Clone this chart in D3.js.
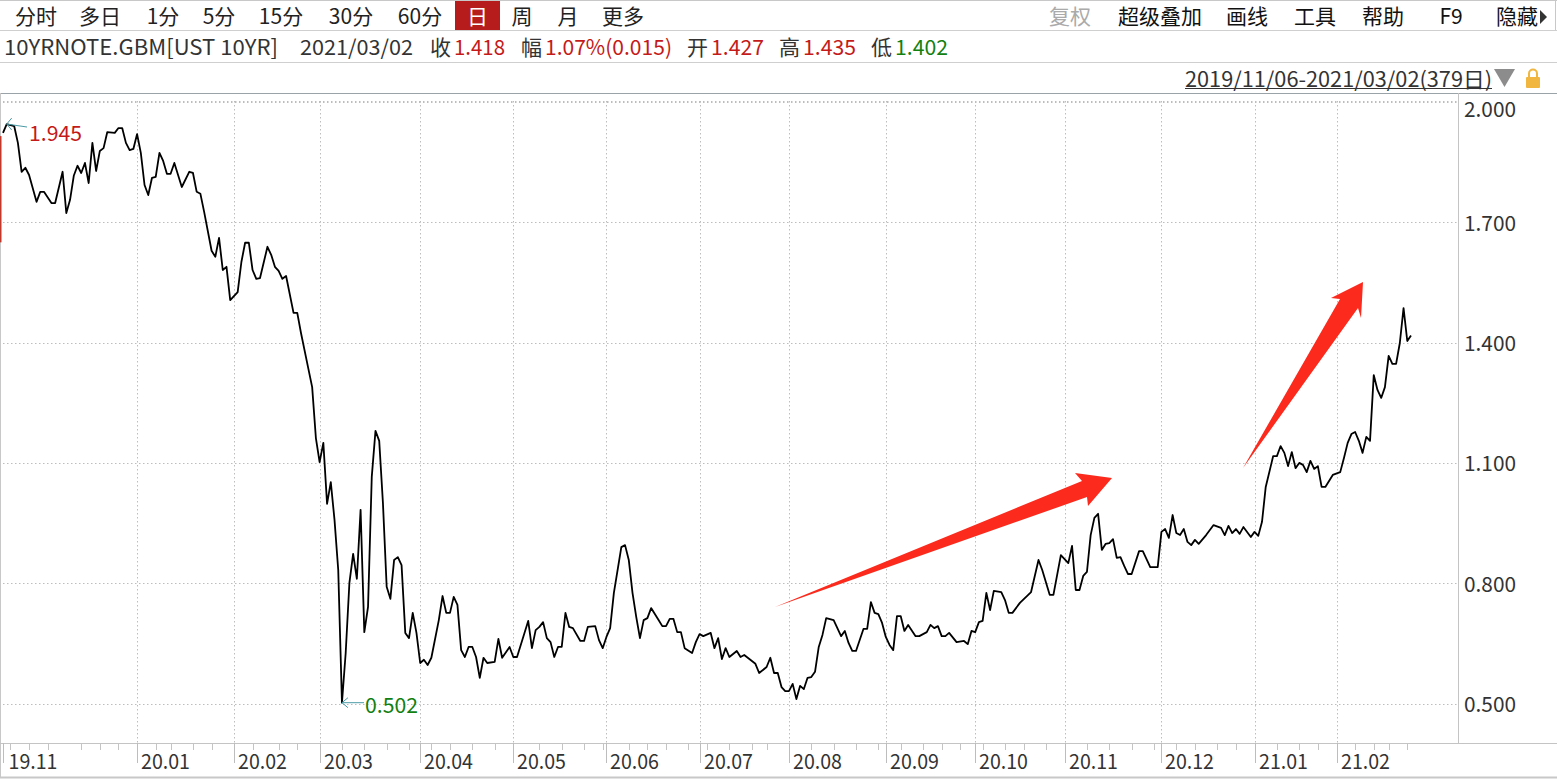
<!DOCTYPE html>
<html><head><meta charset="utf-8">
<script src="https://cdn.jsdelivr.net/npm/d3@7"></script>
<style>
html,body{margin:0;padding:0;background:#fff;overflow:hidden}
text{font-family:"Noto Sans CJK SC","Open Sans",sans-serif}
</style></head><body><svg id="c" width="1557" height="779"></svg>
<script>
const days=[0,1,3,4,5,6,7,9,10,11,13,14,16,17,18,19,20,21,22,23,24,25,26,27,28,30,31,32,33,34,35,36,37,38,39,40,41,42,43,44,45,46,48,50,51,52,53,54,56,57,58,59,60,61,63,64,65,66,67,68,69,71,72,73,74,75,76,78,79,80,82,83,84,85,86,87,88,89,90,91,92,93,94,95,96,97,98,99,100,101,102,103,104,105,106,107,108,109,110,111,112,113,114,115,117,118,119,120,121,122,123,124,125,126,127,128,129,130,132,133,134,136,137,138,139,141,142,143,144,145,146,147,148,149,150,151,152,153,155,156,157,159,160,161,162,163,164,166,167,168,169,170,171,172,173,174,176,177,178,179,180,181,182,183,185,186,187,188,190,191,192,193,194,195,197,198,199,202,203,205,206,207,208,209,210,211,212,213,214,215,216,217,218,219,220,221,223,225,226,227,228,229,231,232,233,234,235,236,237,238,239,240,241,242,243,245,246,248,249,250,251,252,253,254,256,258,259,260,261,262,263,264,265,266,268,269,270,271,273,276,278,279,281,282,284,286,287,288,289,290,291,292,293,294,295,296,297,298,299,300,301,302,303,305,306,308,310,311,312,313,314,315,316,317,318,319,320,321,323,325,327,328,329,330,331,332,333,335,336,337,338,339,341,342,343,344,345,346,347,348,349,350,351,352,353,354,355,357,359,360,361,362,363,364,365,366,367,368,369,370,371,372,373,374,375,376,377,378];
const closes=[1.923,1.945,1.940,1.898,1.826,1.836,1.818,1.751,1.776,1.776,1.748,1.748,1.826,1.723,1.756,1.816,1.841,1.823,1.848,1.798,1.898,1.828,1.878,1.885,1.925,1.923,1.935,1.935,1.898,1.880,1.883,1.920,1.873,1.793,1.768,1.811,1.813,1.873,1.853,1.821,1.821,1.848,1.788,1.826,1.823,1.776,1.771,1.726,1.629,1.614,1.661,1.581,1.589,1.506,1.526,1.601,1.649,1.649,1.581,1.559,1.561,1.639,1.619,1.589,1.579,1.559,1.566,1.474,1.474,1.424,1.334,1.289,1.162,1.102,1.150,0.998,1.052,0.958,0.833,0.502,0.626,0.801,0.873,0.811,0.983,0.678,0.741,1.065,1.180,1.155,1.000,0.791,0.761,0.858,0.865,0.845,0.676,0.663,0.726,0.676,0.601,0.609,0.596,0.614,0.708,0.768,0.726,0.726,0.766,0.746,0.633,0.616,0.641,0.641,0.616,0.564,0.614,0.601,0.604,0.661,0.614,0.641,0.616,0.616,0.646,0.706,0.638,0.683,0.691,0.703,0.663,0.653,0.616,0.641,0.641,0.726,0.691,0.688,0.656,0.656,0.691,0.693,0.658,0.638,0.666,0.688,0.776,0.890,0.895,0.858,0.776,0.716,0.663,0.708,0.713,0.738,0.708,0.693,0.693,0.711,0.711,0.678,0.678,0.638,0.626,0.653,0.673,0.668,0.676,0.638,0.663,0.611,0.638,0.616,0.631,0.616,0.621,0.599,0.576,0.591,0.614,0.576,0.576,0.541,0.531,0.531,0.549,0.511,0.544,0.536,0.564,0.566,0.579,0.641,0.671,0.713,0.708,0.668,0.681,0.651,0.631,0.631,0.686,0.686,0.753,0.726,0.723,0.701,0.666,0.646,0.633,0.718,0.718,0.681,0.696,0.668,0.668,0.678,0.696,0.688,0.693,0.668,0.668,0.676,0.653,0.656,0.648,0.681,0.678,0.703,0.706,0.776,0.733,0.781,0.778,0.758,0.726,0.726,0.751,0.778,0.858,0.833,0.771,0.771,0.870,0.850,0.893,0.783,0.783,0.818,0.828,0.920,0.963,0.973,0.883,0.898,0.900,0.910,0.863,0.865,0.843,0.823,0.823,0.880,0.880,0.840,0.840,0.928,0.935,0.913,0.970,0.925,0.920,0.935,0.903,0.895,0.908,0.898,0.920,0.945,0.938,0.920,0.943,0.925,0.935,0.923,0.940,0.915,0.928,0.918,0.953,1.040,1.117,1.117,1.142,1.125,1.092,1.127,1.087,1.100,1.095,1.077,1.105,1.085,1.092,1.040,1.040,1.070,1.077,1.112,1.150,1.172,1.177,1.155,1.125,1.165,1.155,1.319,1.282,1.262,1.289,1.367,1.347,1.347,1.399,1.486,1.404,1.418];
const yTicks=[2.0,1.7,1.4,1.1,0.8,0.5];
const monthLabels=["19.11","20.01","20.02","20.03","20.04","20.05","20.06","20.07","20.08","20.09","20.10","20.11","20.12","21.01","21.02"];
const monthDays=[0,36,62,85,112,137,162,187,211,237,261,285,311,336,358];
const weekDays=[2,7,12,21,26,31,41,45,51,56,67,74,79,91,97,103,109,115,120,126,132,144,150,156,161,168,173,178,184,189,195,201,205,217,223,229,235,241,247,252,257,263,269,274,280,291,297,303,309,315,320,326,331,342,348,353,363,368,372,377];
const toolbarLeft=["分时","多日","1分","5分","15分","30分","60分","周","月","更多"];
const toolbarLeftX=[36,100,163,219,281,351,420,522,568,623];
const toolbarRight=["超级叠加","画线","工具","帮助","F9","隐藏"];
const toolbarRightX=[1160,1247,1315,1383,1451,1517];
const quoteText=["10YRNOTE.GBM[UST 10YR]","2021/03/02","收","1.418","幅","1.07%(0.015)","开","1.427","高","1.435","低","1.402"];
const quoteX=[4,300,430,454,521,545,687,711,779,803,871,895];
const quoteW=[274,113,21,51,21,127,21,53,21,53,21,53];
const quoteColor=["#333","#333","#333","#c41a1a","#333","#c41a1a","#333","#c41a1a","#333","#c41a1a","#333","#118011"];
const rangeLabel="2019/11/06-2021/03/02(379日)";

const svg=d3.select("#c");
const x=d3.scaleLinear().domain([0,378]).range([3,1411]);
const y=d3.scaleLinear().domain([0.5,2.0]).range([703.5,102]);
const AX=1458,TOP=101,BOT=743;
const line=(x1,y1,x2,y2,c,w=1,d=null)=>svg.append("line").attr("x1",x1).attr("y1",y1).attr("x2",x2).attr("y2",y2).attr("stroke",c).attr("stroke-width",w).attr("stroke-dasharray",d);
const text=(s,px,py,c,size=21,anchor="start",len=null)=>{
  const t=svg.append("text").attr("x",px).attr("y",py).attr("fill",c).attr("font-size",size).attr("text-anchor",anchor).attr("dominant-baseline","central").text(s);
  if(len) t.attr("textLength",len).attr("lengthAdjust","spacingAndGlyphs");
  return t;
};

// panel rules
line(0,0.5,1557,0.5,"#c8c8c8",1);
line(0,30.5,1557,30.5,"#cfcfcf",1);
line(0,62.5,1557,62.5,"#cfcfcf",1);
line(0,93.5,1557,93.5,"#9aa3a8",1);
line(0.5,93,0.5,778,"#c8c8c8",1);
line(0,777.5,1557,777.5,"#c8c8c8",2);
line(AX+.5,93,AX+.5,BOT,"#c4c4c4",1);
line(0,BOT+.5,1557,BOT+.5,"#c4c4c4",1);
line(1555.5,0,1555.5,30,"#c8c8c8",1);

// toolbar
toolbarLeft.forEach((s,i)=>text(s,toolbarLeftX[i],15,"#222",21,"middle"));
svg.append("rect").attr("x",455).attr("y",1).attr("width",45).attr("height",29).attr("fill","#b71c1c");
text("日",477.5,15,"#fff",21,"middle");
text("复权",1070,15,"#aaa",21,"middle");
toolbarRight.forEach((s,i)=>text(s,toolbarRightX[i],15,"#111",21,"middle"));
svg.append("path").attr("d","M1540,10L1547,17L1540,24Z").attr("fill","#333");

// quote row
quoteText.forEach((s,i)=>text(s,quoteX[i],46,quoteColor[i],21,"start",quoteW[i]));

// range label
text(rangeLabel,1185,78,"#333",21,"start",307);
line(1185,88.5,1492,88.5,"#333",1);
svg.append("path").attr("d","M1494,69L1515,69L1504.5,87Z").attr("fill","#8c8c8c");
svg.append("rect").attr("x",1526).attr("y",77).attr("width",14).attr("height",11).attr("rx",1).attr("fill","#f0b63f");
svg.append("path").attr("d","M1529,77v-3.5a4,4 0 0 1 8,0v3.5").attr("fill","none").attr("stroke","#f0b63f").attr("stroke-width",2);

// grid
const dot="1.5,2.5";
yTicks.forEach(v=>line(3,Math.round(y(v))+.5,AX,Math.round(y(v))+.5,"#bdbdbd",1,dot));
monthDays.slice(1).forEach(d=>line(Math.round(x(d))+.5,TOP,Math.round(x(d))+.5,BOT,"#bdbdbd",1,dot));
line(3,TOP+.5,AX,TOP+.5,"#bdbdbd",1,dot);

// axes
yTicks.forEach(v=>text(v.toFixed(3),1464,v===2?108:y(v)-0.5,"#333",21,"start",52));
weekDays.forEach(d=>{const px=Math.round(x(d))+.5;line(px,BOT,px,750,"#c4c4c4",1);});
monthDays.forEach((d,i)=>{
  const px=Math.round(x(d))+.5;
  line(px,BOT,px,763,"#bdbdbd",1);
  text(monthLabels[i],px+(i?3.5:5),759.5,"#333",21,"start",49);
});

// red left bar
svg.append("rect").attr("x",0).attr("y",y(1.915)).attr("width",1.5).attr("height",y(1.65)-y(1.915)).attr("fill","#c0392b");

// series
const pts=days.map((d,i)=>[d,closes[i]]);
svg.append("path").datum(pts).attr("fill","none").attr("stroke","#000").attr("stroke-width",1.8).attr("stroke-linejoin","round")
 .attr("d",d3.line().x(d=>x(d[0])).y(d=>y(d[1])));

// hi/lo callouts
line(x(1),y(1.945),27,127,"#4a9aa5",1);
line(x(1),y(1.945),x(1)+5,y(1.945)-6,"#4a9aa5",1);
line(x(1),y(1.945),x(1)+5,y(1.945)+6,"#4a9aa5",1);
text("1.945",29,132,"#c41a1a",21,"start",53);
line(x(91),y(0.502),364,y(0.502),"#4a9aa5",1);
line(x(91),y(0.502),x(91)+6,y(0.502)-5,"#4a9aa5",1);
line(x(91),y(0.502),x(91)+6,y(0.502)+5,"#4a9aa5",1);
text("0.502",365,703.5,"#118011",21,"start",53);

// hand-drawn annotation arrows
const arrow=a=>svg.append("path").attr("fill","#fb2a1c").attr("d",d3.line()(a)+"Z");
arrow([[775,607],[1087,497],[1088,506],[1112,478],[1075,473],[1082,481]]);
arrow([[1243,468],[1358,308],[1361,318],[1363,282],[1331,298],[1340,299]]);
</script></body></html>
